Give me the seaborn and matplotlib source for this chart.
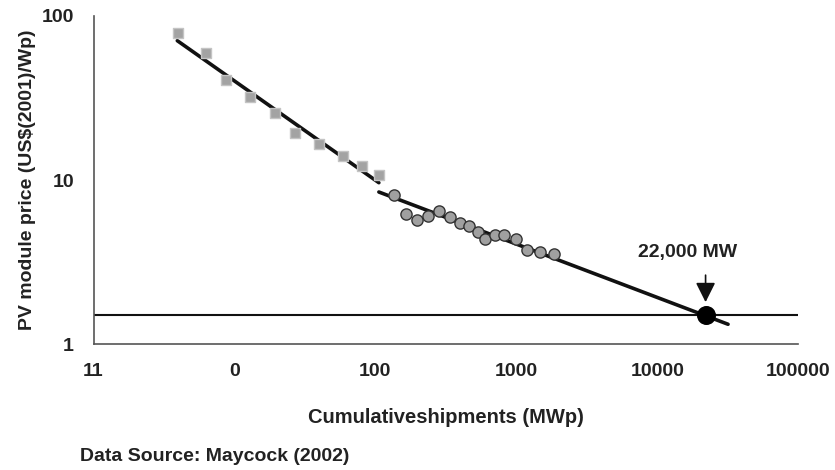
import numpy as np
import pandas as pd
import matplotlib
matplotlib.use("Agg")
import matplotlib.pyplot as plt
import seaborn as sns

# Early shipments (squares)
early_mw = [3.96, 6.28, 8.75, 12.8, 19.4, 27.0, 39.5, 59.1, 80.2, 106.4]
early_price = [78.8, 59.3, 40.7, 32.1, 25.7, 19.4, 16.6, 14.0, 12.1, 10.7]

# Later shipments (circles)
late_mw = [134.6, 164.5, 196, 234.6, 280.7, 337.6, 399, 458, 530.8, 601,
           704, 819, 986, 1181, 1468, 1854]
late_price = [8.07, 6.21, 5.68, 6.06, 6.47, 5.95, 5.44, 5.22, 4.80, 4.37,
              4.60, 4.60, 4.37, 3.76, 3.62, 3.52]

# Trend line end points
trend1_mw = [3.93, 105.8]
trend1_price = [70.7, 9.63]
trend2_mw = [105.8, 31760]
trend2_price = [8.45, 1.32]

# Break-even point
target_price = 1.5
target_mw = 22000

xticks = [1, 10, 100, 1000, 10000, 100000]
xtick_labels = ["11", "0", "100", "1000", "10000", "100000"]
yticks = [1, 10, 100]
ytick_labels = ["1", "10", "100"]

sns.set_style("white")
plt.rcParams['font.family'] = ['Liberation Sans', 'DejaVu Sans']
plt.rcParams['font.weight'] = 'bold'

fig = plt.figure(figsize=(8.35, 4.7), dpi=100)
ax = fig.add_axes([0.112, 0.268, 0.844, 0.698])

early = pd.DataFrame({"mw": early_mw, "price": early_price})
late = pd.DataFrame({"mw": late_mw, "price": late_price})

sns.lineplot(x=trend1_mw, y=trend1_price, color="#111111", lw=2.6, ax=ax)
sns.lineplot(x=trend2_mw, y=trend2_price, color="#111111", lw=2.6, ax=ax)
sns.scatterplot(data=early, x="mw", y="price", marker="s", s=58,
                color="#a3a3a3", edgecolor="#c4c4c4", linewidth=1, ax=ax, zorder=3)
sns.scatterplot(data=late, x="mw", y="price", marker="o", s=65,
                color="#a0a0a0", edgecolor="#333333", linewidth=1, ax=ax, zorder=3)

ax.axhline(target_price, color="#111111", lw=1.5, zorder=1)
sns.scatterplot(x=[target_mw], y=[target_price], s=160, color="black",
                edgecolor="black", ax=ax, zorder=4)

ax.annotate("", xy=(target_mw, 1.80), xytext=(target_mw, 2.63),
            arrowprops=dict(arrowstyle="-|>,head_length=0.6,head_width=0.3",
                            color="#111111", lw=1.2, mutation_scale=20,
                            shrinkA=0, shrinkB=0))
ax.text(16450, 3.59, "22,000 MW", ha="center", va="center",
        fontsize=14, fontweight="bold", color="#222222")

ax.set_xscale("log")
ax.set_yscale("log")
ax.set_xlim(1, 100000)
ax.set_ylim(1, 100)
ax.set_xticks(xticks)
ax.set_xticklabels(xtick_labels)
ax.set_yticks(yticks)
ax.set_yticklabels(ytick_labels)
ax.minorticks_off()
ax.tick_params(axis="both", direction="out", length=6, width=1,
               color="#555555", labelsize=14, labelcolor="#222222", pad=8)

for side in ["top", "right"]:
    ax.spines[side].set_visible(False)
for side in ["left", "bottom"]:
    ax.spines[side].set_color("#555555")
    ax.spines[side].set_linewidth(1.2)

ax.set_xlabel("Cumulativeshipments (MWp)", fontsize=14.5, fontweight="bold",
              color="#222222", labelpad=20)
ax.set_ylabel("PV module price (US$(2001)/Wp)", fontsize=14, fontweight="bold",
              color="#222222", labelpad=4)

fig.text(0.096, 0.028, "Data Source: Maycock (2002)", fontsize=14,
         fontweight="bold", color="#222222", va="center")

plt.savefig("out.png", dpi=100)
